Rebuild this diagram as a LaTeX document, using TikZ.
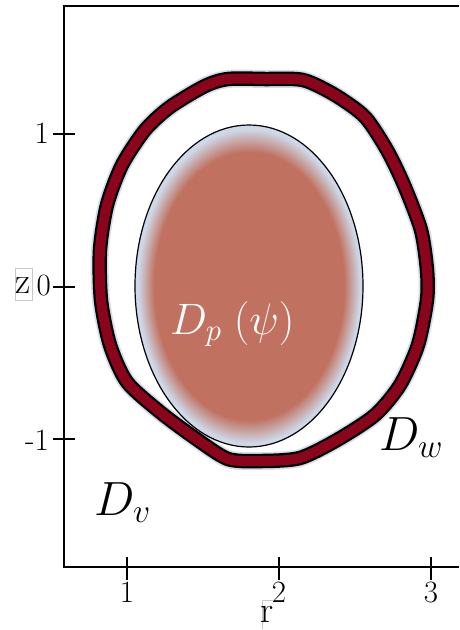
\RequirePackage{fix-cm}
\documentclass[tikz,border=0pt]{standalone}
\usetikzlibrary{shapes.geometric}
\definecolor{wallred}{RGB}{138,4,28}
\definecolor{plasmac}{RGB}{192,113,96}
\definecolor{plasmaedge}{RGB}{206,216,232}
\definecolor{halo}{RGB}{214,222,238}
\definecolor{boxgray}{RGB}{200,200,200}
\pgfdeclareradialshading{plasmashade}{\pgfpoint{0bp}{0bp}}{color(0bp)=(plasmac); color(20.8bp)=(plasmac); color(24.4bp)=(plasmaedge); color(50bp)=(plasmaedge)}
\begin{document}
\begin{tikzpicture}[x=1pt,y=-1pt,
  axis/.style={line width=1.3pt,black},
  ticklab/.style={font=\fontsize{31}{31}\selectfont, inner sep=0pt},
  axlab/.style={font=\fontsize{37}{37}\selectfont, inner sep=0pt},
  domlab/.style={font=\fontsize{48}{48}\selectfont, inner sep=0pt, anchor=base west},
  wall/.style={line width=10pt, wallred, line join=round,
    preaction={draw=halo, line width=18pt, line join=round},
    preaction={draw=black, line width=14.5pt, line join=round}},
  plasmastyle/.style={ellipse, draw=black, line width=1.2pt, shade, shading=plasmashade,
    minimum width=228pt, minimum height=322pt, inner sep=0pt}]
\useasboundingbox (0,0) rectangle (459,630);
% axes
\draw[axis] (459,6) -- (64,6) -- (64,567) -- (459,567);
\foreach \y in {134,287,439} \draw[axis] (53,\y) -- (75,\y);
\foreach \x in {127,279,431} \draw[axis] (\x,557) -- (\x,580);
% wall
\draw[wall] plot[smooth cycle, tension=0.45] coordinates {
 (265,79) (303,80) (335,95) (365,117) (387,150) (404,185) (421,230)
 (427,270) (427,300) (418,345) (400,385) (375,415) (337,440) (300,458)
 (262,461) (228,459) (195,438) (160,412) (127,382) (110,345) (101,300)
 (100,250) (107,205) (122,165) (145,130) (170,107) (205,86) (228,79)};
% plasma
\node[plasmastyle] (plasma) at (249,286) {};
\node[font=\fontsize{44}{44}\selectfont, text=white, inner sep=0pt, anchor=base west] (dp) at (170,334) {$D_p\;(\psi)$};
\node[domlab] (dw) at (379,450) {$D_w$};
\node[domlab] (dv) at (94,515) {$D_v$};
% tick labels
\node[ticklab, anchor=east] (z1) at (49,133) {1};
\node[ticklab, anchor=east] (z0) at (51,285) {0};
\node[ticklab, anchor=east] (zm1) at (49,440) {-1};
\node[ticklab, anchor=north] (r1) at (127,582) {1};
\node[ticklab, anchor=north] (r2) at (279,582) {2};
\node[ticklab, anchor=north] (r3) at (431,582) {3};
% axis titles
\draw[boxgray, line width=0.8pt] (15,268) rectangle (32,300);
\node[axlab, anchor=base] (zlab) at (23,293) {z};
\draw[boxgray, line width=0.8pt] (262,629) -- (262,600) -- (273,600);
\node[axlab, anchor=base] (rlab) at (267,622) {r};
\end{tikzpicture}
\end{document}
